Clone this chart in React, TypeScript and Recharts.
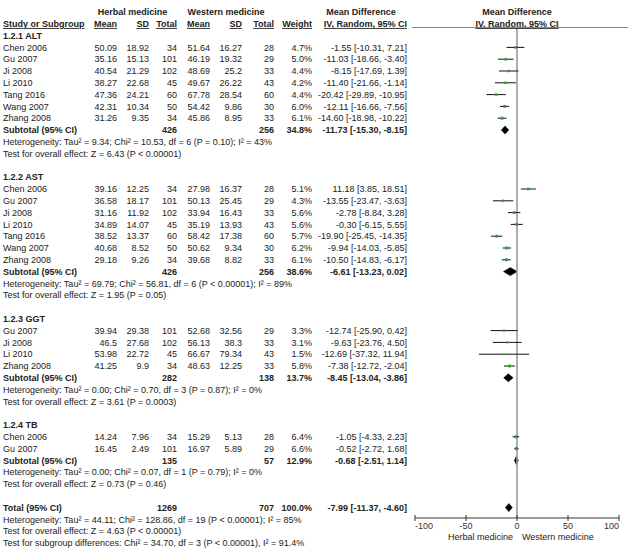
import React from 'react';
import { ScatterChart, Scatter, XAxis, YAxis, ErrorBar, ReferenceLine, ReferenceArea } from 'recharts';

type Study = {
  study: string;
  hMean: number; hSD: number; hN: number;
  wMean: number; wSD: number; wN: number;
  weight: number; md: number; lo: number; hi: number;
};
type Pooled = {
  hN: number; wN: number; weight: number; md: number; lo: number; hi: number;
  heterogeneity: string; overall: string;
};

// ---- data ----
const altStudies: Study[] = [
  { study: 'Chen 2006', hMean: 50.09, hSD: 18.92, hN: 34, wMean: 51.64, wSD: 16.27, wN: 28, weight: 4.7, md: -1.55, lo: -10.31, hi: 7.21 },
  { study: 'Gu 2007', hMean: 35.16, hSD: 15.13, hN: 101, wMean: 46.19, wSD: 19.32, wN: 29, weight: 5.0, md: -11.03, lo: -18.66, hi: -3.4 },
  { study: 'Ji 2008', hMean: 40.54, hSD: 21.29, hN: 102, wMean: 48.69, wSD: 25.2, wN: 33, weight: 4.4, md: -8.15, lo: -17.69, hi: 1.39 },
  { study: 'Li 2010', hMean: 38.27, hSD: 22.68, hN: 45, wMean: 49.67, wSD: 26.22, wN: 43, weight: 4.2, md: -11.4, lo: -21.66, hi: -1.14 },
  { study: 'Tang 2016', hMean: 47.36, hSD: 24.21, hN: 60, wMean: 67.78, wSD: 28.54, wN: 60, weight: 4.4, md: -20.42, lo: -29.89, hi: -10.95 },
  { study: 'Wang 2007', hMean: 42.31, hSD: 10.34, hN: 50, wMean: 54.42, wSD: 9.86, wN: 30, weight: 6.0, md: -12.11, lo: -16.66, hi: -7.56 },
  { study: 'Zhang 2008', hMean: 31.26, hSD: 9.35, hN: 34, wMean: 45.86, wSD: 8.95, wN: 33, weight: 6.1, md: -14.6, lo: -18.98, hi: -10.22 },
];
const astStudies: Study[] = [
  { study: 'Chen 2006', hMean: 39.16, hSD: 12.25, hN: 34, wMean: 27.98, wSD: 16.37, wN: 28, weight: 5.1, md: 11.18, lo: 3.85, hi: 18.51 },
  { study: 'Gu 2007', hMean: 36.58, hSD: 18.17, hN: 101, wMean: 50.13, wSD: 25.45, wN: 29, weight: 4.3, md: -13.55, lo: -23.47, hi: -3.63 },
  { study: 'Ji 2008', hMean: 31.16, hSD: 11.92, hN: 102, wMean: 33.94, wSD: 16.43, wN: 33, weight: 5.6, md: -2.78, lo: -8.84, hi: 3.28 },
  { study: 'Li 2010', hMean: 34.89, hSD: 14.07, hN: 45, wMean: 35.19, wSD: 13.93, wN: 43, weight: 5.6, md: -0.3, lo: -6.15, hi: 5.55 },
  { study: 'Tang 2016', hMean: 38.52, hSD: 13.37, hN: 60, wMean: 58.42, wSD: 17.38, wN: 60, weight: 5.7, md: -19.9, lo: -25.45, hi: -14.35 },
  { study: 'Wang 2007', hMean: 40.68, hSD: 8.52, hN: 50, wMean: 50.62, wSD: 9.34, wN: 30, weight: 6.2, md: -9.94, lo: -14.03, hi: -5.85 },
  { study: 'Zhang 2008', hMean: 29.18, hSD: 9.26, hN: 34, wMean: 39.68, wSD: 8.82, wN: 33, weight: 6.1, md: -10.5, lo: -14.83, hi: -6.17 },
];
const ggtStudies: Study[] = [
  { study: 'Gu 2007', hMean: 39.94, hSD: 29.38, hN: 101, wMean: 52.68, wSD: 32.56, wN: 29, weight: 3.3, md: -12.74, lo: -25.9, hi: 0.42 },
  { study: 'Ji 2008', hMean: 46.5, hSD: 27.68, hN: 102, wMean: 56.13, wSD: 38.3, wN: 33, weight: 3.1, md: -9.63, lo: -23.76, hi: 4.5 },
  { study: 'Li 2010', hMean: 53.98, hSD: 22.72, hN: 45, wMean: 66.67, wSD: 79.34, wN: 43, weight: 1.5, md: -12.69, lo: -37.32, hi: 11.94 },
  { study: 'Zhang 2008', hMean: 41.25, hSD: 9.9, hN: 34, wMean: 48.63, wSD: 12.25, wN: 33, weight: 5.8, md: -7.38, lo: -12.72, hi: -2.04 },
];
const tbStudies: Study[] = [
  { study: 'Chen 2006', hMean: 14.24, hSD: 7.96, hN: 34, wMean: 15.29, wSD: 5.13, wN: 28, weight: 6.4, md: -1.05, lo: -4.33, hi: 2.23 },
  { study: 'Gu 2007', hMean: 16.45, hSD: 2.49, hN: 101, wMean: 16.97, wSD: 5.89, wN: 29, weight: 6.6, md: -0.52, lo: -2.72, hi: 1.68 },
];

const altPooled: Pooled = {
  hN: 426, wN: 256, weight: 34.8, md: -11.73, lo: -15.3, hi: -8.15,
  heterogeneity: 'Heterogeneity: Tau² = 9.34; Chi² = 10.53, df = 6 (P = 0.10); I² = 43%',
  overall: 'Test for overall effect: Z = 6.43 (P < 0.00001)',
};
const astPooled: Pooled = {
  hN: 426, wN: 256, weight: 38.6, md: -6.61, lo: -13.23, hi: 0.02,
  heterogeneity: 'Heterogeneity: Tau² = 69.79; Chi² = 56.81, df = 6 (P < 0.00001); I² = 89%',
  overall: 'Test for overall effect: Z = 1.95 (P = 0.05)',
};
const ggtPooled: Pooled = {
  hN: 282, wN: 138, weight: 13.7, md: -8.45, lo: -13.04, hi: -3.86,
  heterogeneity: 'Heterogeneity: Tau² = 0.00; Chi² = 0.70, df = 3 (P = 0.87); I² = 0%',
  overall: 'Test for overall effect: Z = 3.61 (P = 0.0003)',
};
const tbPooled: Pooled = {
  hN: 135, wN: 57, weight: 12.9, md: -0.68, lo: -2.51, hi: 1.14,
  heterogeneity: 'Heterogeneity: Tau² = 0.00; Chi² = 0.07, df = 1 (P = 0.79); I² = 0%',
  overall: 'Test for overall effect: Z = 0.73 (P = 0.46)',
};
const totalPooled: Pooled = {
  hN: 1269, wN: 707, weight: 100.0, md: -7.99, lo: -11.37, hi: -4.6,
  heterogeneity: 'Heterogeneity: Tau² = 44.11; Chi² = 128.86, df = 19 (P < 0.00001); I² = 85%',
  overall: 'Test for overall effect: Z = 4.63 (P < 0.00001)',
};
const subgroupTest = 'Test for subgroup differences: Chi² = 34.70, df = 3 (P < 0.00001), I² = 91.4%';

const groupTitles = ['1.2.1 ALT', '1.2.2 AST', '1.2.3 GGT', '1.2.4 TB'];
const groupStudies = [altStudies, astStudies, ggtStudies, tbStudies];
const groupPooled = [altPooled, astPooled, ggtPooled, tbPooled];

const axisTicks = [-100, -50, 0, 50, 100];
const favoursLeft = 'Herbal medicine';
const favoursRight = 'Western medicine';

// ---- layout ----
const W = 628;
const H = 549;
const ROW0 = 12;
const ROW_H = 11.8;
const PLOT_LEFT = 415;
const PLOT_RIGHT = 619;
const PLOT_TOP = 27;
const AXIS_Y = 518;
const XAXIS_H = 20;
const FONT = '"Liberation Sans", Arial, Helvetica, sans-serif';
const INK = '#222';

const rowY = (r: number) => ROW0 + ROW_H * r;
const yDomain: [number, number] = [(PLOT_TOP - ROW0) / ROW_H, (AXIS_Y - ROW0) / ROW_H];
const zeroX = PLOT_LEFT + ((0 - axisTicks[0]) / (axisTicks[axisTicks.length - 1] - axisTicks[0])) * (PLOT_RIGHT - PLOT_LEFT);

const COL = { hMean: 117, hSD: 149, hN: 177, wMean: 210, wSD: 242, wN: 274, weight: 312, md: 407 };

type Line =
  | { kind: 'group'; row: number; title: string }
  | { kind: 'study'; row: number; s: Study }
  | { kind: 'pooled'; row: number; p: Pooled; label: string }
  | { kind: 'note'; row: number; text: string };

const lines: Line[] = [];
const pooledRows: { row: number; p: Pooled }[] = [];
let cursor = 2;
groupTitles.forEach((title, gi) => {
  lines.push({ kind: 'group', row: cursor++, title });
  groupStudies[gi].forEach((s) => lines.push({ kind: 'study', row: cursor++, s }));
  const p = groupPooled[gi];
  pooledRows.push({ row: cursor, p });
  lines.push({ kind: 'pooled', row: cursor++, p, label: 'Subtotal (95% CI)' });
  lines.push({ kind: 'note', row: cursor++, text: p.heterogeneity });
  lines.push({ kind: 'note', row: cursor++, text: p.overall });
  cursor++;
});
pooledRows.push({ row: cursor, p: totalPooled });
lines.push({ kind: 'pooled', row: cursor++, p: totalPooled, label: 'Total (95% CI)' });
lines.push({ kind: 'note', row: cursor++, text: totalPooled.heterogeneity });
lines.push({ kind: 'note', row: cursor++, text: totalPooled.overall });
lines.push({ kind: 'note', row: cursor++, text: subgroupTest });

const studyPoints = lines
  .filter((l): l is { kind: 'study'; row: number; s: Study } => l.kind === 'study')
  .map((l) => ({ row: l.row, md: l.s.md, weight: l.s.weight, err: [l.s.md - l.s.lo, l.s.hi - l.s.md] }));

const fmtCI = (md: number, lo: number, hi: number) => `${md.toFixed(2)} [${lo.toFixed(2)}, ${hi.toFixed(2)}]`;

const Txt = ({ x, y, anchor = 'start', bold = false, underline = false, children }: any) => (
  <text
    x={x}
    y={y}
    dy="0.35em"
    textAnchor={anchor}
    fontFamily={FONT}
    fontSize={9}
    fontWeight={bold ? 'bold' : 'normal'}
    textDecoration={underline ? 'underline' : undefined}
    fill={INK}
  >
    {children}
  </text>
);

const AxisTick = (props: any) => {
  const { x, y, payload } = props;
  const v = payload.value;
  const anchor = v === axisTicks[0] ? 'start' : v === axisTicks[axisTicks.length - 1] ? 'end' : 'middle';
  return (
    <g>
      <line x1={x} x2={x} y1={y - 3} y2={y + 3} stroke="#333" strokeWidth={1} />
      <text x={x} y={y + 11} textAnchor={anchor} fontFamily={FONT} fontSize={9} fill="#333">
        {v}
      </text>
    </g>
  );
};

// green square whose side grows with the study weight
const StudyMark = (props: any) => {
  const { cx, cy, payload } = props;
  const side = 1.2 + payload.weight * 0.28;
  return <rect x={cx - side / 2} y={cy - side / 2} width={side} height={side} fill="#2ca02c" />;
};

const diamondShape = (p: Pooled) => (props: any) => {
  const { x, y, width, height } = props;
  const mx = x + (width * (p.md - p.lo)) / (p.hi - p.lo);
  const pts = `${x},${y + height / 2} ${mx},${y} ${x + width},${y + height / 2} ${mx},${y + height}`;
  return <polygon points={pts} fill="#000" stroke="#000" strokeWidth={0.6} />;
};

const Table = () => (
  <svg width={W} height={H} style={{ position: 'absolute', left: 0, top: 0, pointerEvents: 'none' }}>
    {/* column headers */}
    <Txt x={132.5} y={rowY(0)} anchor="middle" bold>Herbal medicine</Txt>
    <Txt x={226} y={rowY(0)} anchor="middle" bold>Western medicine</Txt>
    <Txt x={361} y={rowY(0)} anchor="middle" bold>Mean Difference</Txt>
    <Txt x={zeroX} y={rowY(0)} anchor="middle" bold>Mean Difference</Txt>
    <Txt x={3} y={rowY(1)} bold underline>Study or Subgroup</Txt>
    <Txt x={COL.hMean} y={rowY(1)} anchor="end" bold underline>Mean</Txt>
    <Txt x={COL.hSD} y={rowY(1)} anchor="end" bold underline>SD</Txt>
    <Txt x={COL.hN} y={rowY(1)} anchor="end" bold underline>Total</Txt>
    <Txt x={COL.wMean} y={rowY(1)} anchor="end" bold underline>Mean</Txt>
    <Txt x={COL.wSD} y={rowY(1)} anchor="end" bold underline>SD</Txt>
    <Txt x={COL.wN} y={rowY(1)} anchor="end" bold underline>Total</Txt>
    <Txt x={COL.weight} y={rowY(1)} anchor="end" bold underline>Weight</Txt>
    <Txt x={COL.md} y={rowY(1)} anchor="end" bold underline>IV, Random, 95% CI</Txt>
    <Txt x={zeroX} y={rowY(1)} anchor="middle" bold underline>IV, Random, 95% CI</Txt>
    <line x1={412} x2={W} y1={PLOT_TOP + 0.5} y2={PLOT_TOP + 0.5} stroke="#888" strokeWidth={1} />

    {lines.map((l, i) => {
      const y = rowY(l.row);
      if (l.kind === 'group') return <Txt key={i} x={3} y={y} bold>{l.title}</Txt>;
      if (l.kind === 'note') return <Txt key={i} x={3} y={y}>{l.text}</Txt>;
      if (l.kind === 'study') {
        const s = l.s;
        return (
          <g key={i}>
            <Txt x={3} y={y}>{s.study}</Txt>
            <Txt x={COL.hMean} y={y} anchor="end">{String(s.hMean)}</Txt>
            <Txt x={COL.hSD} y={y} anchor="end">{String(s.hSD)}</Txt>
            <Txt x={COL.hN} y={y} anchor="end">{String(s.hN)}</Txt>
            <Txt x={COL.wMean} y={y} anchor="end">{String(s.wMean)}</Txt>
            <Txt x={COL.wSD} y={y} anchor="end">{String(s.wSD)}</Txt>
            <Txt x={COL.wN} y={y} anchor="end">{String(s.wN)}</Txt>
            <Txt x={COL.weight} y={y} anchor="end">{`${s.weight.toFixed(1)}%`}</Txt>
            <Txt x={COL.md} y={y} anchor="end">{fmtCI(s.md, s.lo, s.hi)}</Txt>
          </g>
        );
      }
      const p = l.p;
      return (
        <g key={i}>
          <Txt x={3} y={y} bold>{l.label}</Txt>
          <Txt x={COL.hN} y={y} anchor="end" bold>{String(p.hN)}</Txt>
          <Txt x={COL.wN} y={y} anchor="end" bold>{String(p.wN)}</Txt>
          <Txt x={COL.weight} y={y} anchor="end" bold>{`${p.weight.toFixed(1)}%`}</Txt>
          <Txt x={COL.md} y={y} anchor="end" bold>{fmtCI(p.md, p.lo, p.hi)}</Txt>
        </g>
      );
    })}

    {/* favours labels under the axis */}
    <Txt x={zeroX - 4} y={537} anchor="end">{favoursLeft}</Txt>
    <Txt x={zeroX + 5} y={537}>{favoursRight}</Txt>
  </svg>
);

export default function App() {
  return (
    <div style={{ position: 'absolute', left: 0, top: 0, width: W, height: H, background: '#fff' }}>
      <ScatterChart
        width={W}
        height={H}
        margin={{ top: PLOT_TOP, right: W - PLOT_RIGHT, bottom: H - AXIS_Y - XAXIS_H, left: PLOT_LEFT }}
      >
        <XAxis
          type="number"
          dataKey="md"
          domain={[axisTicks[0], axisTicks[axisTicks.length - 1]]}
          ticks={axisTicks}
          interval={0}
          allowDataOverflow
          height={XAXIS_H}
          tickLine={false}
          tickSize={0}
          tickMargin={0}
          axisLine={{ stroke: '#333', strokeWidth: 1 }}
          tick={<AxisTick />}
        />
        <YAxis type="number" dataKey="row" domain={yDomain} reversed hide allowDataOverflow />
        <ReferenceLine x={0} stroke="#9a9a9a" strokeWidth={1.6} />
        {pooledRows.map(({ row, p }, i) => (
          <ReferenceArea
            key={i}
            x1={p.lo}
            x2={p.hi}
            y1={row - 0.34}
            y2={row + 0.34}
            shape={diamondShape(p)}
          />
        ))}
        <Scatter data={studyPoints} isAnimationActive={false} shape={<StudyMark />}>
          <ErrorBar dataKey="err" direction="x" width={0} stroke="#111" strokeWidth={1} />
        </Scatter>
      </ScatterChart>
      <Table />
    </div>
  );
}
